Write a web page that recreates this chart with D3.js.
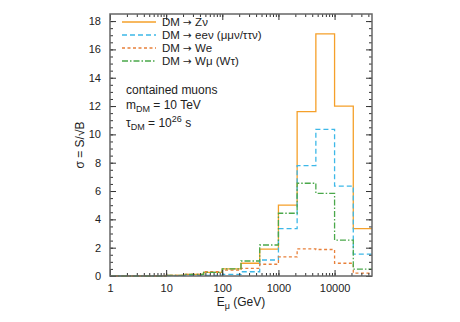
<!DOCTYPE html>
<html>
<head>
<meta charset="utf-8">
<script src="https://cdn.jsdelivr.net/npm/d3@7"></script>
<style>
  body { margin: 0; background: #fff; }
  svg { font-family: "Liberation Sans", Arial, sans-serif; }
</style>
</head>
<body>
<svg id="chart" width="460" height="322"></svg>
<script>
// bords des bins en energie (GeV)
var bords = [1, 2.154, 4.642, 10, 21.54, 46.42, 100, 215.4, 464.2, 1000, 2154, 4642, 10000, 21544, 46416];

// sigma par bin pour chaque canal
var zNu  = [0, 0, 0, 0.05, 0.12, 0.25, 0.5, 0.9, 1.9, 5.0, 11.6, 17.1, 12.0, 3.35];
var eeNu = [0, 0, 0, 0.02, 0.05, 0.05, 0.12, 0.3, 1.13, 3.35, 7.8, 10.35, 6.35, 1.55];
var wE   = [0, 0, 0, 0.05, 0.12, 0.3, 0.42, 0.54, 0.83, 1.35, 1.92, 1.87, 0.9, 0.2];
var wMu  = [0, 0, 0, 0.05, 0.12, 0.25, 0.5, 1.06, 2.19, 4.43, 6.55, 5.84, 2.54, 0.49];

var ticksX = [1, 10, 100, 1000, 10000];
var ticksY = [0, 2, 4, 6, 8, 10, 12, 14, 16, 18];

var marge = {haut: 14, droite: 88, bas: 46, gauche: 110};
var largeur = 460, hauteur = 322;

var svg = d3.select('#chart');

var x = d3.scaleLog().domain([1, 46416]).range([marge.gauche, largeur - marge.droite]);
var y = d3.scaleLinear().domain([0, 18.5]).range([hauteur - marge.bas, marge.haut]);

var series = [
  {debut: 'DM ', fin: ' Z\u03bd', vals: zNu, couleur: '#f5a02a', dash: null},
  {debut: 'DM ', fin: ' ee\u03bd (\u03bc\u03bc\u03bd/\u03c4\u03c4\u03bd)', vals: eeNu, couleur: '#3db8e8', dash: '5,3'},
  {debut: 'DM ', fin: ' We', vals: wE, couleur: '#e8803a', dash: '3,2.5'},
  {debut: 'DM ', fin: ' W\u03bc (W\u03c4)', vals: wMu, couleur: '#4aa84a', dash: '6,2,1.5,2'}
];

var ligne = d3.line()
  .x(d => x(d[0]))
  .y(d => y(d[1]))
  .curve(d3.curveStepAfter);

series.forEach(function(s) {
  var pts = bords.map((b, i) => [b, i < s.vals.length ? s.vals[i] : s.vals[s.vals.length - 1]]);
  svg.append('path')
    .attr('d', ligne(pts))
    .attr('fill', 'none')
    .attr('stroke', s.couleur)
    .attr('stroke-width', 1.3)
    .attr('stroke-dasharray', s.dash);
});

// ticks mineurs en x
var mineursX = [];
for (var dec = 1; dec < 100000; dec *= 10) {
  for (var k = 1; k < 10; k++) {
    var v = dec * k;
    if (v <= 46416) mineursX.push(v);
  }
}
var mineursY = d3.range(0, 18.5, 0.5);

var axeBas = svg.append('g')
  .attr('transform', `translate(0,${hauteur - marge.bas})`)
  .call(d3.axisBottom(x).tickValues(mineursX).tickSize(-3).tickFormat(''));
axeBas.append('g').call(d3.axisBottom(x).tickValues(ticksX).tickSize(-6).tickFormat(d3.format('d')).tickPadding(8));

var axeHaut = svg.append('g')
  .attr('transform', `translate(0,${marge.haut})`)
  .call(d3.axisTop(x).tickValues(mineursX).tickSize(-3).tickFormat(''));
axeHaut.append('g').call(d3.axisTop(x).tickValues(ticksX).tickSize(-6).tickFormat(''));

var axeGauche = svg.append('g')
  .attr('transform', `translate(${marge.gauche},0)`)
  .call(d3.axisLeft(y).tickValues(mineursY).tickSize(-3).tickFormat(''));
axeGauche.append('g').call(d3.axisLeft(y).tickValues(ticksY).tickSize(-6).tickPadding(9));

var axeDroit = svg.append('g')
  .attr('transform', `translate(${largeur - marge.droite},0)`)
  .call(d3.axisRight(y).tickValues(mineursY).tickSize(-3).tickFormat(''));
axeDroit.append('g').call(d3.axisRight(y).tickValues(ticksY).tickSize(-6).tickFormat(''));

svg.selectAll('.domain').remove();
svg.selectAll('.tick line').attr('stroke', '#333');
svg.selectAll('.tick text').attr('font-size', 11).attr('fill', '#222').attr('font-family', '"Liberation Sans", Arial, sans-serif');

// cadre
svg.append('rect')
  .attr('x', marge.gauche).attr('y', marge.haut)
  .attr('width', largeur - marge.droite - marge.gauche)
  .attr('height', hauteur - marge.bas - marge.haut)
  .attr('fill', 'none').attr('stroke', '#666').attr('stroke-width', 1.5);

// legende
var leg = svg.append('g');
series.forEach(function(s, i) {
  var ly = 22 + i * 13;
  leg.append('line')
    .attr('x1', 122).attr('x2', 156).attr('y1', ly).attr('y2', ly)
    .attr('stroke', s.couleur).attr('stroke-width', 1.3)
    .attr('stroke-dasharray', s.dash);
  var t = leg.append('text')
    .attr('x', 162).attr('y', ly + 4)
    .attr('font-size', 11.5).attr('fill', '#222');
  t.append('tspan').text(s.debut);
  t.append('tspan').attr('font-family', '"DejaVu Sans", sans-serif').attr('font-size', 10.5).text('\u2192');
  t.append('tspan').text(s.fin);
});

// annotations
var ann = svg.append('g').attr('font-size', 12).attr('fill', '#222');
ann.append('text').attr('x', 126).attr('y', 94).text('contained muons');
var t2 = ann.append('text').attr('x', 126).attr('y', 109);
t2.append('tspan').text('m');
t2.append('tspan').attr('font-size', 9).attr('dy', 3).text('DM');
t2.append('tspan').attr('dy', -3).text(' = 10 TeV');
var t3 = ann.append('text').attr('x', 126).attr('y', 127);
t3.append('tspan').text('\u03c4');
t3.append('tspan').attr('font-size', 9).attr('dy', 3).text('DM');
t3.append('tspan').attr('dy', -3).text(' = 10');
t3.append('tspan').attr('font-size', 9).attr('dy', -5).text('26');
t3.append('tspan').attr('dy', 5).text(' s');

// titres des axes
var tx = svg.append('text')
  .attr('x', 241).attr('y', 306)
  .attr('text-anchor', 'middle').attr('font-size', 12).attr('fill', '#222');
tx.append('tspan').text('E');
tx.append('tspan').attr('font-size', 9).attr('dy', 3).text('\u03bc');
tx.append('tspan').attr('dy', -3).text(' (GeV)');

svg.append('text')
  .attr('transform', 'translate(84,145) rotate(-90)')
  .attr('text-anchor', 'middle').attr('font-size', 12).attr('fill', '#222')
  .text('\u03c3 = S/\u221aB');
</script>
</body>
</html>
